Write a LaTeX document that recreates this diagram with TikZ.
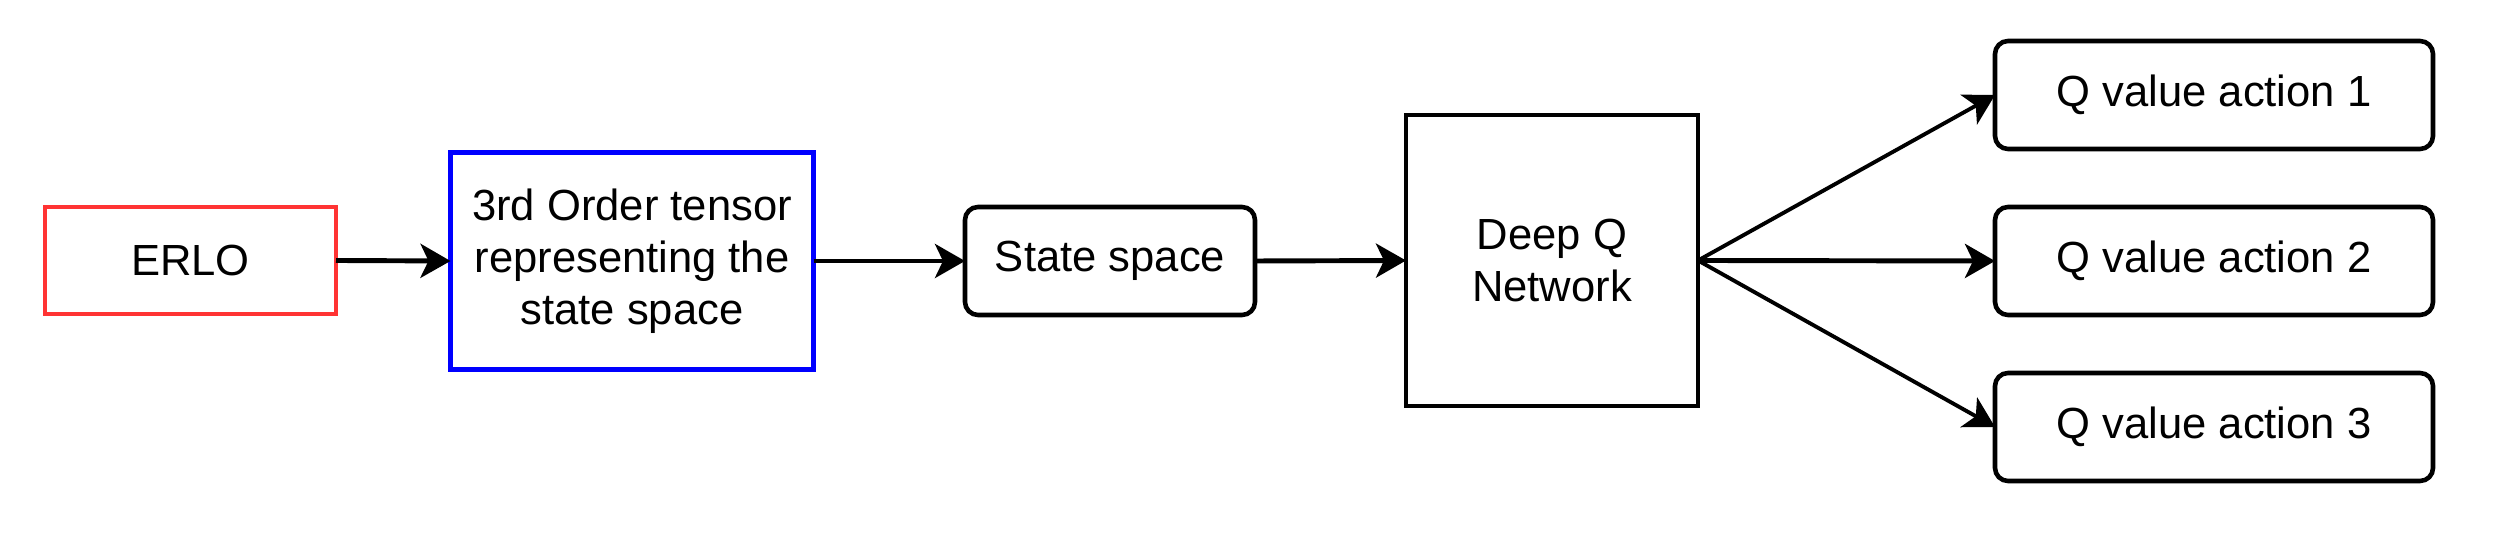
\documentclass[tikz,border=0pt]{standalone}
\usepackage{fontspec}
\setmainfont{Liberation Sans}
\usetikzlibrary{arrows.meta}
\definecolor{erlored}{HTML}{FF3333}
\definecolor{tensorblue}{HTML}{0000FF}
\begin{document}
\begin{tikzpicture}[x=1cm,y=1cm,
  every node/.style={font=\fontsize{12.4}{14.8}\selectfont, align=center, outer sep=0pt, inner sep=0pt},
  plainbox/.style={draw=black, line width=1.3pt, rounded corners=0.13cm},
  conn/.style={line width=1.4pt, -{Stealth[length=0.30cm, width=0.34cm, inset=0.08cm]}},
  diag/.style={line width=1.1pt, -{Stealth[length=0.30cm, width=0.34cm, inset=0.08cm]}}]
\useasboundingbox (0,0) rectangle (25.17,5.49);
\node[draw=erlored, line width=1.3pt, minimum width=2.91cm, minimum height=1.07cm] (erlo) at (1.905,2.885) {ERLO};
\node[draw=tensorblue, line width=1.5pt, minimum width=3.63cm, minimum height=2.17cm] (tensor) at (6.32,2.88) {3rd Order tensor\\representing the\\state space};
\node[plainbox, minimum width=2.90cm, minimum height=1.08cm] (state) at (11.10,2.88) {State space};
\node[draw=black, line width=1.3pt, minimum width=2.92cm, minimum height=2.91cm] (dqn) at (15.52,2.885) {Deep Q\\Network};
\node[plainbox, minimum width=4.38cm, minimum height=1.08cm] (q1) at (22.14,4.54) {Q value action 1};
\node[plainbox, minimum width=4.38cm, minimum height=1.08cm] (q2) at (22.14,2.88) {Q value action 2};
\node[plainbox, minimum width=4.38cm, minimum height=1.08cm] (q3) at (22.14,1.22) {Q value action 3};
\draw[conn] (erlo.east) -- (tensor.west);
\draw[conn] (tensor.east) -- (state.west);
\draw[conn] (state.east) -- (dqn.west);
\draw[diag] (dqn.east) -- (q1.west);
\draw[conn] (dqn.east) -- (q2.west);
\draw[diag] (dqn.east) -- (q3.west);
\end{tikzpicture}
\end{document}
